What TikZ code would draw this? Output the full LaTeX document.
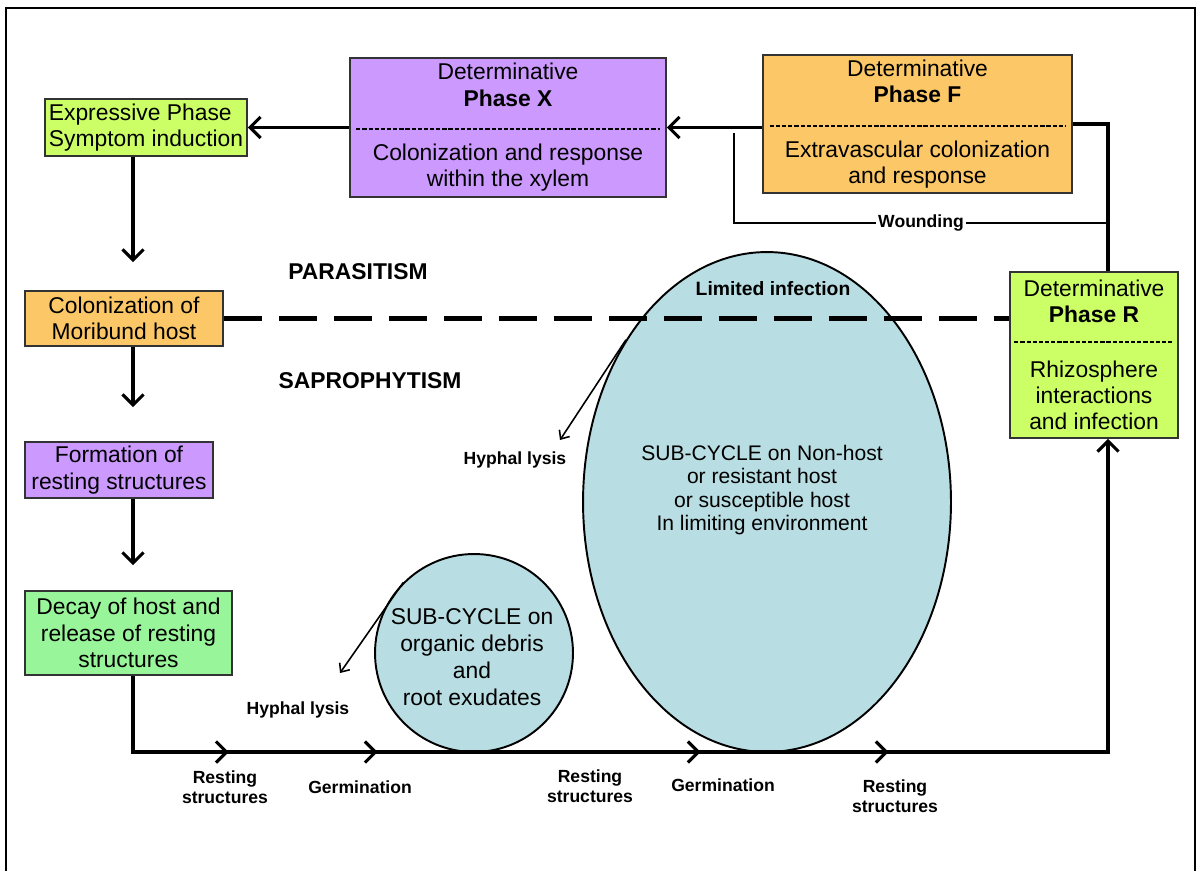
\documentclass[tikz,border=0pt]{standalone}
\usepackage{fontspec}
\setmainfont{Liberation Sans}
\usetikzlibrary{arrows.meta,shapes.geometric,decorations.markings}

\definecolor{limebox}{HTML}{CCFF66}
\definecolor{violetbox}{HTML}{CC99FF}
\definecolor{orangebox}{HTML}{FCC766}
\definecolor{greenbox}{HTML}{99F599}
\definecolor{cycfill}{HTML}{B8DDE2}

\begin{document}
\begin{tikzpicture}[x=0.02cm,y=-0.02cm,
  box/.style={draw=black!80,line width=0.9pt,inner sep=0pt,align=center,font=\fontsize{13}{15}\selectfont},
  arr/.style={line width=1.8pt,-{Straight Barb[length=6pt,width=12pt]}},
  thinarr/.style={line width=0.9pt,-{Straight Barb[length=4pt,width=7pt]}},
  plain/.style={line width=1.8pt},
  divider/.style={line width=1.5pt,dash pattern=on 2.4pt off 1.1pt},
  cyc/.style={draw,line width=1.1pt,fill=cycfill,inner sep=0pt},
  cyctext/.style={align=center,inner sep=0pt},
  lbl/.style={font=\bfseries\fontsize{10}{11.5}\selectfont,align=center,inner sep=1pt},
  biglbl/.style={font=\bfseries\fontsize{13}{15}\selectfont}]
\useasboundingbox (0,0) rectangle (1202,871);
\draw[line width=1.2pt] (6,871) -- (6,8) -- (1195,8) -- (1195,871);

% sub-cycles
\node[cyc,circle,minimum size=3.96cm] (smallc) at (474,653) {};
\node[cyc,ellipse,minimum width=7.36cm,minimum height=10cm] (bigc) at (767,502) {};
\node[cyctext,font=\fontsize{13}{15.3}\selectfont] (smallt) at (472,657)
  {SUB-CYCLE on\\organic debris\\and\\root exudates};
\node[cyctext,font=\fontsize{12}{13.4}\selectfont] (bigt) at (762,490)
  {SUB-CYCLE on Non-host\\or resistant host\\or susceptible host\\In limiting environment};
\node[lbl,font=\bfseries\fontsize{11}{13}\selectfont] (limited) at (773,289) {Limited infection};

% left column
\node[box,fill=limebox,align=left,minimum width=4.04cm,minimum height=1.14cm] (expr) at (146,127.5)
  {Expressive Phase\\Symptom induction};
\node[box,fill=orangebox,minimum width=3.96cm,minimum height=1.1cm] (colon) at (124,318.5)
  {Colonization of\\Moribund host};
\node[box,fill=violetbox,minimum width=3.76cm,minimum height=1.12cm] (form) at (119,470)
  {Formation of\\resting structures};
\node[box,fill=greenbox,minimum width=4.14cm,minimum height=1.68cm] (decay) at (128.5,633)
  {Decay of host and\\release of resting\\structures};

% determinative phases
\node[box,fill=violetbox,minimum width=6.32cm,minimum height=2.78cm] (phx) at (508,127.5)
  {Determinative\\\textbf{Phase X}\\[16pt]Colonization and response\\within the xylem};
\node[box,fill=orangebox,minimum width=6.18cm,minimum height=2.76cm] (phf) at (917.5,124)
  {Determinative\\\textbf{Phase F}\\[16pt]Extravascular colonization\\and response};
\node[box,fill=limebox,minimum width=3.36cm,minimum height=3.32cm] (phr) at (1094,355)
  {Determinative\\\textbf{Phase R}\\[16pt]Rhizosphere\\interactions\\and infection};
\draw[divider] ([xshift=0.14cm,yshift=-0.03cm]phx.west) -- ([xshift=-0.14cm,yshift=-0.03cm]phx.east);
\draw[divider] ([xshift=0.15cm,yshift=-0.04cm]phf.west) -- ([xshift=-0.15cm,yshift=-0.04cm]phf.east);
\draw[divider] ([xshift=0.1cm,yshift=0.26cm]phr.west) -- ([xshift=-0.1cm,yshift=0.26cm]phr.east);

\coordinate (spine) at (133,0);
\coordinate (rx) at (1108,0);
\coordinate (floor) at (0,752);

% upper connectors
\draw[arr] (phx.west) -- (expr.east);
\draw[arr] (phf.west |- phx.east) -- (phx.east);
\draw[plain] (phf.east) -| (phr.north -| rx);
\coordinate (wstart) at (734,133);
\coordinate (wend) at (1108,223);
\draw[line width=1.1pt] (wstart) |- node[lbl,fill=white,pos=0.75] (wound) {Wounding} (wend);

% left column arrows
\draw[arr,shorten >=0.56cm] (expr.south -| spine) -- (colon.north -| spine);
\draw[arr,shorten >=0.68cm] (colon.south -| spine) -- (form.north -| spine);
\draw[arr,shorten >=0.5cm] (form.south -| spine) -- (decay.north -| spine);

% parasitism / saprophytism border
\draw[line width=2.3pt,dash pattern=on 21.6pt off 9.7pt] (colon.east) -- (colon.east -| phr.west);
\node[biglbl] (para) at (358,272) {PARASITISM};
\node[biglbl] (sapro) at (370,381) {SAPROPHYTISM};

% soil loop
\draw[arr,postaction={decorate},decoration={markings,
    mark=at position 3.44cm with {\arrow{Straight Barb[length=6pt,width=12pt]}},
    mark=at position 6.42cm with {\arrow{Straight Barb[length=6pt,width=12pt]}},
    mark=at position 12.88cm with {\arrow{Straight Barb[length=6pt,width=12pt]}},
    mark=at position 16.64cm with {\arrow{Straight Barb[length=6pt,width=12pt]}}}]
  (decay.south -| spine) -- (spine |- floor) -- (rx |- floor) -- (phr.south -| rx);
\node[lbl] (rest1) at (225,787) {Resting\\structures};
\node[lbl] (germ1) at (360,787) {Germination};
\node[lbl] (rest2) at (590,786) {Resting\\structures};
\node[lbl] (germ2) at (723,785) {Germination};
\node[lbl] (rest3) at (895,796) {Resting\\structures};

% hyphal lysis
\coordinate (lysisA) at (560,440);
\coordinate (lysisB) at (340,673);
\draw[thinarr] (bigc.131) -- (lysisA);
\draw[thinarr] (smallc.135) -- (lysisB);
\node[lbl] (lysA) at (515,460) {Hyphal lysis};
\node[lbl] (lysB) at (298,710) {Hyphal lysis};
\end{tikzpicture}
\end{document}
